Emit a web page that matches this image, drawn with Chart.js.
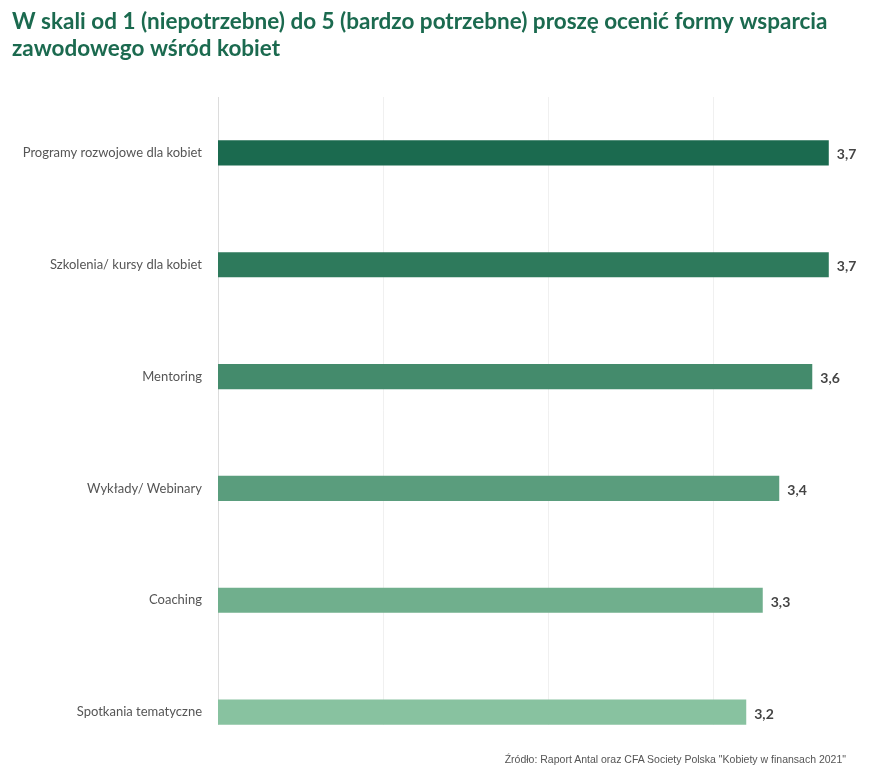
<!DOCTYPE html>
<html lang="pl">

<head>
  <meta charset="UTF-8" />
  <title>Formy wsparcia zawodowego</title>
  <script src="https://cdn.jsdelivr.net/npm/chart.js"></script>
  <style>
    html,
    body {
      margin: 0;
      padding: 0;
      background: #fff;
    }

    .wrap {
      position: relative;
      width: 875px;
      height: 773px;
    }

    .source {
      position: absolute;
      right: 29px;
      top: 753px;
      font-family: "Liberation Sans", Arial, sans-serif;
      font-size: 10.5px;
      color: #555;
    }
  </style>
</head>

<body>
  <div class="wrap">
    <canvas id="myChart" width="875" height="773"></canvas>
    <div class="source">Źródło: Raport Antal oraz CFA Society Polska "Kobiety w finansach 2021"</div>
  </div>

  <script>
    const categories = [
      'Programy rozwojowe dla kobiet',
      'Szkolenia/ kursy dla kobiet',
      'Mentoring',
      'Wykłady/ Webinary',
      'Coaching',
      'Spotkania tematyczne'
    ];
    const values = [3.7, 3.7, 3.6, 3.4, 3.3, 3.2];
    const barColors = ['#1b6a4f', '#2e7a5c', '#448b6c', '#5a9d7d', '#70af8d', '#88c2a0'];
    const gridValues = [0, 1, 2, 3, 4];

    // gridlines only down to the last bar, like the original
    const gridPlugin = {
      id: 'gridPlugin',
      beforeDatasetsDraw(chart) {
        const ctx = chart.ctx;
        const area = chart.chartArea;
        const xs = chart.scales.x;
        const bars = chart.getDatasetMeta(0).data;
        const last = bars[bars.length - 1];
        const bottom = last.y + last.height / 2;
        ctx.save();
        gridValues.forEach(v => {
          const px = Math.round(xs.getPixelForValue(v)) + 0.5;
          if (px > area.right + 1) return;
          ctx.strokeStyle = v === 0 ? '#dcdcdc' : '#f0f0f0';
          ctx.lineWidth = 1;
          ctx.beginPath();
          ctx.moveTo(px, area.top);
          ctx.lineTo(px, bottom);
          ctx.stroke();
        });
        ctx.restore();
      }
    };

    const valueLabels = {
      id: 'valueLabels',
      afterDatasetsDraw(chart) {
        const ctx = chart.ctx;
        ctx.save();
        ctx.font = 'bold 14px Lato, "Open Sans", sans-serif';
        ctx.fillStyle = '#444';
        ctx.textAlign = 'left';
        ctx.textBaseline = 'middle';
        chart.getDatasetMeta(0).data.forEach((bar, i) => {
          ctx.fillText(values[i].toFixed(1).replace('.', ','), bar.x + 8, bar.y + 2);
        });
        ctx.restore();
      }
    };

    new Chart(document.getElementById('myChart'), {
      type: 'bar',
      data: {
        labels: categories,
        datasets: [{
          data: values,
          backgroundColor: barColors,
          borderWidth: 0,
          barPercentage: 0.225,
          categoryPercentage: 1
        }]
      },
      options: {
        indexAxis: 'y',
        responsive: false,
        animation: false,
        layout: {
          padding: { left: 12, right: 0, top: 0, bottom: 5 }
        },
        plugins: {
          legend: { display: false },
          tooltip: { enabled: false },
          title: {
            display: true,
            align: 'start',
            text: [
              'W skali od 1 (niepotrzebne) do 5 (bardzo potrzebne) proszę ocenić formy wsparcia',
              'zawodowego wśród kobiet'
            ],
            color: '#1b6a4f',
            font: { family: 'Lato, "Open Sans", sans-serif', size: 22.5, weight: 'bold', lineHeight: 1.2 },
            padding: { top: 8, bottom: 35 }
          }
        },
        scales: {
          x: {
            display: false,
            min: 0,
            max: 3.98
          },
          y: {
            afterFit(scale) {
              scale.width = 206;
              // tick padding also gets added above/below the axis, drop it
              scale.paddingTop = 0;
              scale.paddingBottom = 0;
            },
            ticks: {
              color: '#555',
              padding: 16,
              font: { family: 'Lato, "Open Sans", sans-serif', size: 13 }
            },
            grid: { display: false, drawTicks: false },
            border: { display: false }
          }
        }
      },
      plugins: [gridPlugin, valueLabels]
    });
  </script>
</body>

</html>
